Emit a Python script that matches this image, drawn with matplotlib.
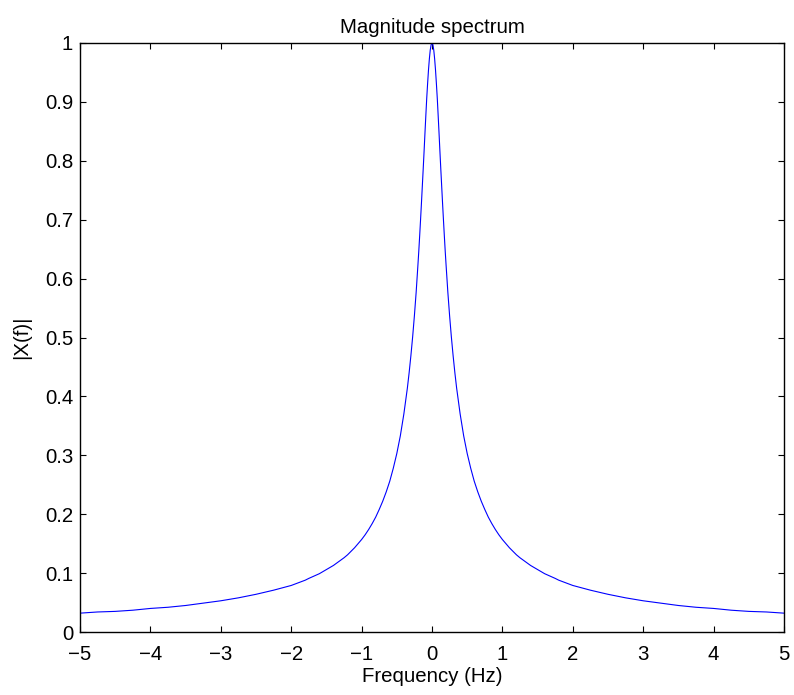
import matplotlib
matplotlib.use('Agg')
import matplotlib.pyplot as plt

# Magnitude values (negative then positive branch)
freq = [-5.0, -4.75, -4.5, -4.25, -4.0, -3.75, -3.5, -3.25, -3.0, -2.75,
        -2.5, -2.25, -2.0, -1.8, -1.75, -1.6, -1.5, -1.4, -1.25, -1.2,
        -1.1, -1.0, -0.95, -0.9, -0.85, -0.8, -0.75, -0.7, -0.65, -0.6,
        -0.55, -0.5, -0.45, -0.4, -0.35, -0.325, -0.3, -0.275, -0.25, -0.225,
        -0.2, -0.1875, -0.175, -0.1625, -0.15, -0.1375, -0.125, -0.1125, -0.1, -0.0875,
        -0.075, -0.0625, -0.05, -0.0375, -0.025, -0.0125, 0.0,
        0.0125, 0.025, 0.0375, 0.05, 0.0625, 0.075, 0.0875, 0.1, 0.1125, 0.125,
        0.1375, 0.15, 0.1625, 0.175, 0.1875, 0.2, 0.225, 0.25, 0.275, 0.3,
        0.325, 0.35, 0.4, 0.45, 0.5, 0.55, 0.6, 0.65, 0.7, 0.75,
        0.8, 0.85, 0.9, 0.95, 1.0, 1.1, 1.2, 1.25, 1.4, 1.5,
        1.6, 1.75, 1.8, 2.0, 2.25, 2.5, 2.75, 3.0, 3.25, 3.5,
        3.75, 4.0, 4.25, 4.5, 4.75, 5.0]
mag = [0.032, 0.034, 0.035, 0.037, 0.040, 0.042, 0.045, 0.049, 0.053, 0.058,
       0.064, 0.071, 0.079, 0.088, 0.091, 0.099, 0.106, 0.113, 0.126, 0.131,
       0.143, 0.157, 0.165, 0.174, 0.184, 0.195, 0.208, 0.222, 0.238, 0.256,
       0.278, 0.303, 0.333, 0.370, 0.414, 0.440, 0.469, 0.501, 0.537, 0.577,
       0.623, 0.647, 0.673, 0.700, 0.728, 0.757, 0.786, 0.816, 0.847, 0.877,
       0.906, 0.931, 0.954, 0.973, 0.988, 0.997, 1.0,
       0.997, 0.988, 0.973, 0.954, 0.931, 0.906, 0.877, 0.847, 0.816, 0.786,
       0.757, 0.728, 0.700, 0.673, 0.647, 0.623, 0.577, 0.537, 0.501, 0.469,
       0.440, 0.414, 0.370, 0.333, 0.303, 0.278, 0.256, 0.238, 0.222, 0.208,
       0.195, 0.184, 0.174, 0.165, 0.157, 0.143, 0.131, 0.126, 0.113, 0.106,
       0.099, 0.091, 0.088, 0.079, 0.071, 0.064, 0.058, 0.053, 0.049, 0.045,
       0.042, 0.040, 0.037, 0.035, 0.034, 0.032]

xticks = [-5, -4, -3, -2, -1, 0, 1, 2, 3, 4, 5]
yticks = [0, 0.1, 0.2, 0.3, 0.4, 0.5, 0.6, 0.7, 0.8, 0.9, 1]
xtick_labels = ['\u22125', '\u22124', '\u22123', '\u22122', '\u22121', '0', '1', '2', '3', '4', '5']
ytick_labels = ['0', '0.1', '0.2', '0.3', '0.4', '0.5', '0.6', '0.7', '0.8', '0.9', '1']

plt.rcParams['font.family'] = ['Liberation Sans', 'DejaVu Sans']
FS = 14.7

fig = plt.figure(figsize=(7.94, 6.95), dpi=100)
ax = fig.add_axes([80 / 794, 63 / 695, 704 / 794, 589 / 695])

ax.plot(freq, mag, color='#0000ff', linewidth=0.8)

ax.set_xlim(-5, 5)
ax.set_ylim(0, 1)
ax.set_xticks(xticks)
ax.set_xticklabels(xtick_labels)
ax.set_yticks(yticks)
ax.set_yticklabels(ytick_labels)
ax.tick_params(direction='in', top=True, right=True, length=4.5, width=0.8,
               labelsize=FS)
ax.tick_params(axis='x', pad=9.4)
ax.tick_params(axis='y', pad=5)
for s in ax.spines.values():
    s.set_linewidth(1.0)

ax.set_title('Magnitude spectrum', fontsize=FS, pad=7)
ax.set_xlabel('Frequency (Hz)', fontsize=FS, labelpad=2)
ax.set_ylabel('|X(f)|', fontsize=FS, labelpad=9.5)

fig.savefig('out.png', dpi=100)
